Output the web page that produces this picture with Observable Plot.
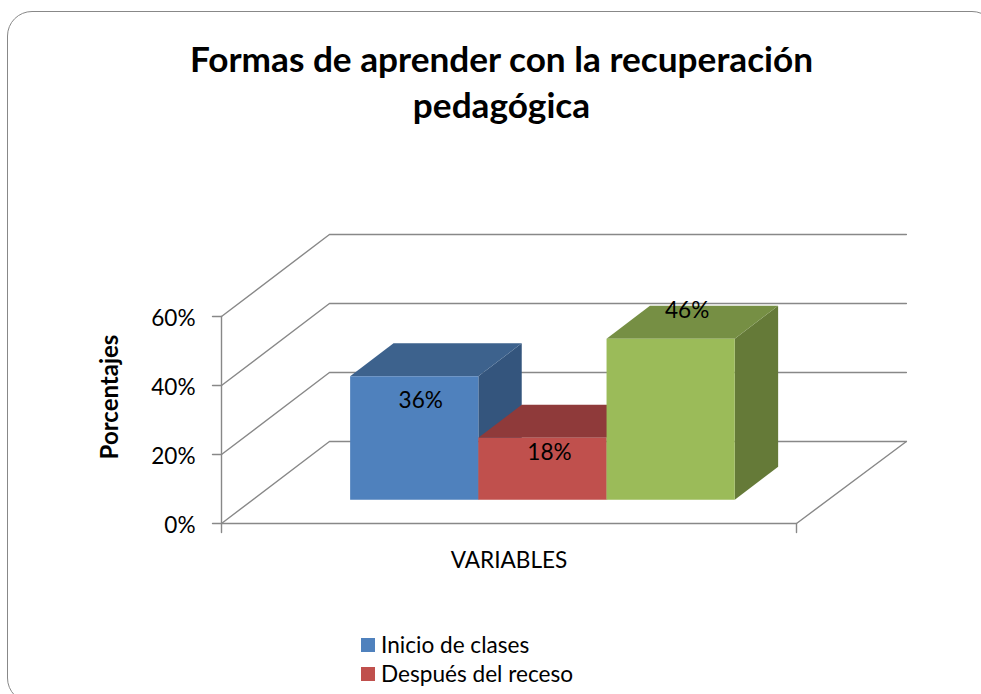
<!DOCTYPE html>
<html><head><meta charset="utf-8">
<script src="https://cdn.jsdelivr.net/npm/d3@7"></script>
<script src="https://cdn.jsdelivr.net/npm/@observablehq/plot@0.6"></script>
<style>
html,body{margin:0;padding:0;background:#fff;overflow:hidden}
#card{position:relative;width:981px;height:694px;font-family:Lato,sans-serif;color:#000;overflow:hidden}
#frame{position:absolute;left:7px;top:11px;width:990px;height:692px;border:1.8px solid #888888;border-radius:25px;box-sizing:border-box}
#title{position:absolute;left:100px;width:803px;top:35px;text-align:center;font-weight:700;font-size:35.2px;line-height:46px}
#legend{position:absolute;left:361px;top:631px;font-size:22.6px;line-height:28.5px}
#legend div{display:flex;align-items:center;height:28.5px}
#legend i{display:inline-block;width:14px;height:14px;margin-right:6px}
svg{position:absolute;left:0;top:0}
</style></head><body>
<div id="card"><div id="frame"></div>
<div id="title">Formas de aprender con la recuperación<br>pedagógica</div>
<div id="chart"></div>
<div id="legend"></div></div>
<script>
const seriesNames = ["Inicio de clases", "Después del receso", ""];
const seriesValues = [35.8, 18, 46.7];
const barLabels = ["36%", "18%", "46%"];
const frontColors = ["#4f81bd", "#c0504d", "#9bbb59"];
const topColors = ["#3d628d", "#8f3a3a", "#768f44"];
const sideColors = ["#34557d", "#7f3230", "#657a38"];
const yTicks = [0, 20, 40, 60];

// Oblique projection: z is depth, 0 at the front and 1 at the back wall.
const depthX = 0.842, depthY = 23.77;
const slots = 4.485, gap = 0.76, zFront = 0.289, zBack = 0.691, gridEnd = slots + 0.015;
const tickLen = 0.07, tickDrop = 2.6;
const P = (x, v, z) => ({x: x + z * depthX, y: v + z * depthY});
const poly = (id, pts, fill) => pts.map(([x, v, z]) => ({...P(x, v, z), id, fill}));

const gridRows = yTicks.flatMap(t => [
  {...P(0, t, 0), id: "w" + t}, {...P(0, t, 1), id: "w" + t}, {...P(gridEnd, t, 1), id: "w" + t}
]);
const outline = [
  {...P(0, 0, 0), id: "floor"}, {...P(slots, 0, 0), id: "floor"}, {...P(gridEnd, 0, 1), id: "floor"},
  {...P(0, 60, 0), id: "wall"}, {...P(0, -tickDrop, 0), id: "wall"},
  {...P(slots, 0, 0), id: "end"}, {...P(slots, -tickDrop, 0), id: "end"},
  ...yTicks.flatMap(t => [{x: -tickLen, y: t, id: "t" + t}, {x: 0, y: t, id: "t" + t}])
];

const faces = [];
seriesValues.forEach((v, i) => {
  const a = gap + i, b = a + 1;
  faces.push(...poly("s" + i, [[b,0,zFront],[b,0,zBack],[b,v,zBack],[b,v,zFront]], sideColors[i]));
  faces.push(...poly("t" + i, [[a,v,zFront],[b,v,zFront],[b,v,zBack],[a,v,zBack]], topColors[i]));
  faces.push(...poly("f" + i, [[a,0,zFront],[b,0,zFront],[b,v,zFront],[a,v,zFront]], frontColors[i]));
});
// The labels sit by hand in the source chart, each with its own nudge from the bar's top centre.
const labelNudge = [[6.5, 24], [7, 15], [16.5, -28]];

const lineStyle = {x: "x", y: "y", z: "id", stroke: "#888888", strokeWidth: 1.4};
const chart = Plot.plot({
  width: 981, height: 694,
  marginLeft: 221, marginRight: 185, marginTop: 316, marginBottom: 171,
  style: {fontFamily: "Lato, sans-serif", fontSize: "22.6px", background: "transparent", overflow: "visible"},
  x: {type: "linear", domain: [0, slots], axis: null},
  y: {type: "linear", domain: [0, 60], axis: null},
  marks: [
    Plot.line(gridRows, lineStyle),
    Plot.line(outline, lineStyle),
    Plot.text(yTicks, {x: () => 0, y: d => d, text: d => d + "%", textAnchor: "end", dx: -26, dy: 2.5, fill: "#000"}),
    Plot.line(faces, {x: "x", y: "y", z: "id", fill: "fill", stroke: "none"}),
    ...seriesValues.map((v, i) => Plot.text([barLabels[i]], {
      x: () => P(gap + i + 0.5, v, zFront).x,
      y: () => P(gap + i + 0.5, v, zFront).y,
      text: d => d, dx: labelNudge[i][0], dy: labelNudge[i][1], fill: "#000"
    })),
    Plot.text(["Porcentajes"], {x: () => 0, y: () => 30, text: d => d, rotate: -90, dx: -111, dy: -23, fontSize: 24, fontWeight: 700, fill: "#000"}),
    Plot.text(["VARIABLES"], {x: () => slots / 2, y: () => 0, text: d => d, dy: 37, fill: "#000"})
  ]
});
document.getElementById("chart").append(chart);
const leg = document.getElementById("legend");
seriesNames.forEach((n, i) => {
  if (!n) return;
  const row = document.createElement("div");
  const sw = document.createElement("i");
  sw.style.background = frontColors[i];
  row.append(sw, n);
  leg.append(row);
});
</script></body></html>
